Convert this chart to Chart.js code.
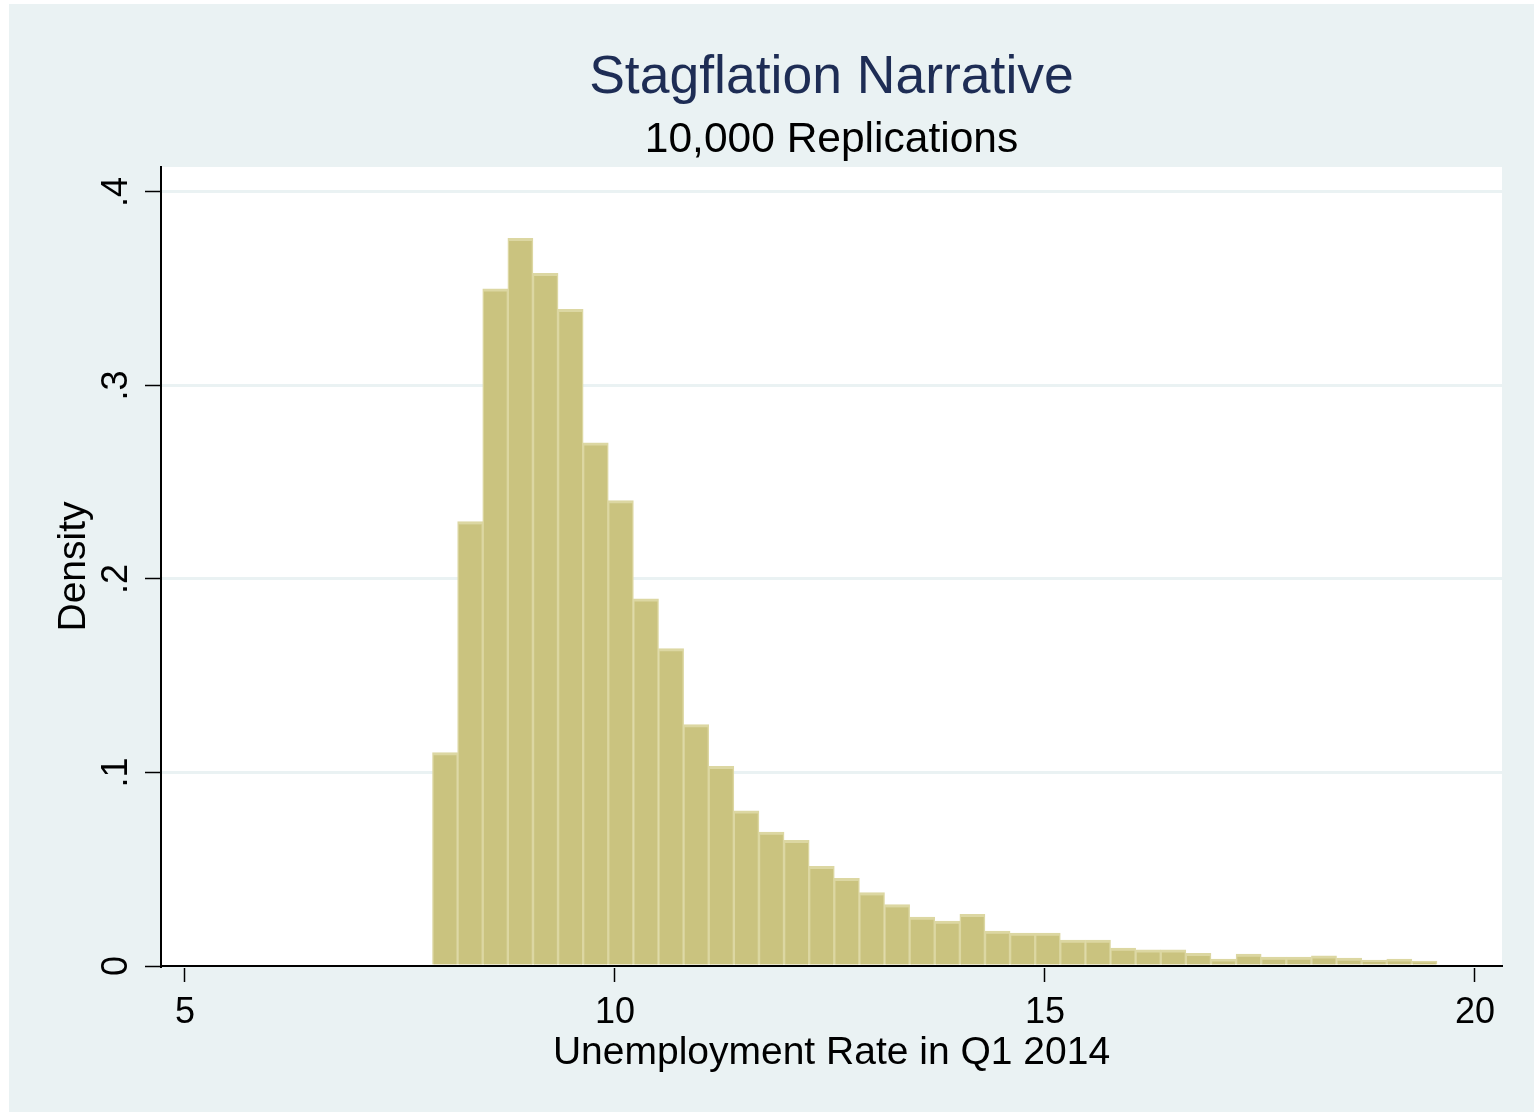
<!DOCTYPE html>
<html>
<head>
<meta charset="utf-8">
<script src="https://cdn.jsdelivr.net/npm/chart.js@4"></script>
<style>
  html, body { margin: 0; padding: 0; background: #ffffff; }
  #wrap { width: 1534px; height: 1112px; }
</style>
</head>
<body>
<div id="wrap"><canvas id="c" width="1534" height="1112"></canvas></div>
<script>
// ---- data ----
const chartTitle = "Stagflation Narrative";
const chartSubtitle = "10,000 Replications";
const xAxisTitle = "Unemployment Rate in Q1 2014";
const yAxisTitle = "Density";

// bin centers (unemployment rate) of the histogram
const binCenters = [
  8.024, 8.316, 8.608, 8.900, 9.192, 9.484, 9.776, 10.068, 10.360, 10.652,
  10.944, 11.236, 11.528, 11.820, 12.112, 12.404, 12.696, 12.988, 13.280, 13.572,
  13.864, 14.156, 14.448, 14.740, 15.032, 15.324, 15.616, 15.908, 16.200, 16.492,
  16.784, 17.076, 17.368, 17.660, 17.952, 18.244, 18.536, 18.828, 19.120, 19.412
];
// density per bin
const densities = [
  0.1103, 0.2297, 0.3500, 0.3760, 0.3580, 0.3393, 0.2704, 0.2405, 0.1898, 0.1640,
  0.1247, 0.1032, 0.0802, 0.0692, 0.0649, 0.0515, 0.0453, 0.0380, 0.0318, 0.0253,
  0.0232, 0.0267, 0.0181, 0.0170, 0.0170, 0.0134, 0.0134, 0.0093, 0.0084, 0.0084,
  0.0065, 0.0036, 0.0062, 0.0046, 0.0046, 0.0052, 0.0041, 0.0031, 0.0036, 0.0026
];
const xTickValues = [5, 10, 15, 20];
const xTickLabels = ["5", "10", "15", "20"];
const yTickValues = [0, 0.1, 0.2, 0.3, 0.4];
const yTickLabels = ["0", ".1", ".2", ".3", ".4"];

// ---- styles ----
const FONT = "'Liberation Sans', Arial, Helvetica, sans-serif";
const BG = "rgb(234,242,243)";
const GRID = "rgb(234,242,243)";
const BAR_FILL = "rgb(202,195,127)";
const BAR_EDGE = "rgb(220,215,162)";
const TITLE_COLOR = "rgb(30,45,85)";

const points = binCenters.map((x, i) => ({ x: x, y: densities[i] }));

const decorPlugin = {
  id: 'decor',
  beforeDraw(chart) {
    const ctx = chart.ctx;
    const a = chart.chartArea;
    ctx.save();
    ctx.fillStyle = '#ffffff';
    ctx.fillRect(0, 0, chart.width, chart.height);
    ctx.fillStyle = BG;
    ctx.fillRect(9, 4, chart.width - 9, chart.height - 4);
    ctx.fillStyle = '#ffffff';
    ctx.fillRect(a.left, a.top, a.right - a.left, a.bottom - a.top);
    ctx.restore();
  },
  afterDraw(chart) {
    const ctx = chart.ctx;
    const a = chart.chartArea;
    const cx = (a.left + a.right) / 2;
    const cy = (a.top + a.bottom) / 2;
    ctx.save();
    ctx.textAlign = 'center';
    ctx.textBaseline = 'alphabetic';
    // titles
    ctx.fillStyle = TITLE_COLOR;
    ctx.font = "53.5px " + FONT;
    ctx.fillText(chartTitle, cx, 93);
    ctx.fillStyle = '#000000';
    ctx.font = "42.5px " + FONT;
    ctx.fillText(chartSubtitle, cx, 152);
    // x axis title
    ctx.font = "39px " + FONT;
    ctx.fillText(xAxisTitle, cx, 1064);
    // y axis title (rotated)
    ctx.save();
    ctx.translate(85, cy);
    ctx.rotate(-Math.PI / 2);
    ctx.fillText(yAxisTitle, 0, 0);
    ctx.restore();
    // y tick labels (rotated, Stata style)
    const ys = chart.scales.y;
    ctx.font = "36px " + FONT;
    yTickValues.forEach((v, i) => {
      const py = ys.getPixelForValue(v);
      ctx.save();
      ctx.translate(127, py);
      ctx.rotate(-Math.PI / 2);
      ctx.fillText(yTickLabels[i], 0, 0);
      ctx.restore();
    });
    ctx.restore();
  }
};

new Chart(document.getElementById('c'), {
  type: 'bar',
  data: {
    datasets: [{
      data: points,
      backgroundColor: BAR_FILL,
      borderColor: BAR_EDGE,
      borderWidth: { top: 3, left: 1.5, right: 1.5, bottom: 0 },
      borderSkipped: 'bottom',
      categoryPercentage: 1.0,
      barPercentage: 1.0
    }]
  },
  options: {
    responsive: false,
    animation: false,
    devicePixelRatio: 1,
    layout: { padding: { top: 167, right: 32, left: 0, bottom: 0 } },
    plugins: {
      legend: { display: false },
      title: { display: false },
      tooltip: { enabled: false }
    },
    scales: {
      x: {
        type: 'linear',
        min: 4.721,
        max: 20.314,
        offset: false,
        afterBuildTicks(scale) { scale.ticks = xTickValues.map(v => ({ value: v })); },
        afterFit(scale) { scale.height = 146; },
        ticks: {
          color: '#000000',
          font: { family: FONT, size: 36 },
          padding: 9,
          maxRotation: 0,
          minRotation: 0,
          autoSkip: false,
          callback: (v) => { const i = xTickValues.indexOf(v); return i >= 0 ? xTickLabels[i] : ''; }
        },
        grid: {
          display: true,
          offset: false,
          drawOnChartArea: false,
          drawTicks: true,
          tickLength: 16,
          tickColor: '#000000',
          tickWidth: 1.5
        },
        border: { display: true, color: '#000000', width: 2 }
      },
      y: {
        type: 'linear',
        min: 0,
        max: 0.4129,
        afterBuildTicks(scale) { scale.ticks = yTickValues.map(v => ({ value: v })); },
        afterFit(scale) { scale.width = 161; },
        ticks: { display: false },
        grid: {
          display: true,
          drawOnChartArea: true,
          drawTicks: true,
          tickLength: 16,
          color: GRID,
          lineWidth: 3,
          tickColor: '#000000',
          tickWidth: 1.5
        },
        border: { display: true, color: '#000000', width: 2 }
      }
    }
  },
  plugins: [decorPlugin]
});
</script>
</body>
</html>
